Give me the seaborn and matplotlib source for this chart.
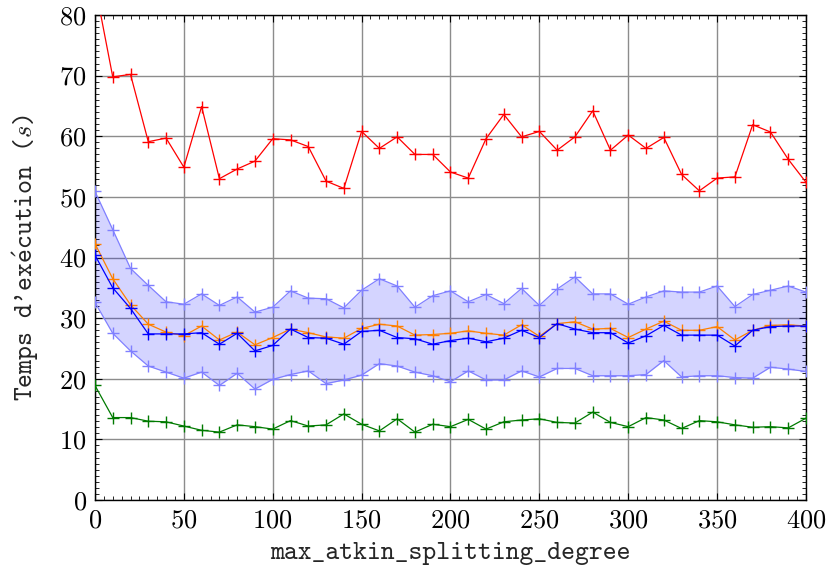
import numpy as np
import pandas as pd
import matplotlib
matplotlib.use("Agg")
import matplotlib.pyplot as plt
from matplotlib.ticker import MultipleLocator
import seaborn as sns

degree = list(range(0, 401, 10))

t_max = [85.0, 69.8, 70.2, 59.1, 59.7, 54.9, 64.9, 53.0, 54.6, 55.9,
         59.6, 59.4, 58.3, 52.6, 51.4, 60.8, 58.0, 59.9, 57.0, 57.0,
         54.1, 53.1, 59.6, 63.6, 59.9, 60.8, 57.7, 59.9, 64.2, 57.7,
         60.2, 58.0, 59.8, 53.7, 51.0, 53.1, 53.3, 61.9, 60.7, 56.2, 52.4]

t_upper = [50.9, 44.6, 38.2, 35.4, 32.7, 32.3, 34.0, 32.1, 33.5, 31.0,
           31.8, 34.5, 33.3, 33.2, 31.7, 34.6, 36.5, 35.3, 31.8, 33.7,
           34.5, 32.7, 33.9, 32.4, 34.9, 32.1, 34.8, 36.8, 34.0, 34.0,
           32.3, 33.5, 34.5, 34.3, 34.3, 35.3, 31.9, 33.9, 34.6, 35.3, 34.3]

t_lower = [32.6, 27.5, 24.6, 22.1, 21.1, 20.1, 21.1, 18.9, 20.9, 18.3,
           19.9, 20.7, 21.3, 19.2, 19.8, 20.6, 22.5, 22.1, 21.1, 20.5,
           19.5, 21.3, 19.8, 19.8, 21.3, 20.3, 21.7, 21.7, 20.5, 20.5,
           20.5, 20.7, 23.0, 20.3, 20.5, 20.5, 20.2, 20.1, 21.9, 21.6, 21.2]

t_mean = [40.4, 35.0, 31.6, 27.4, 27.4, 27.4, 27.6, 25.7, 27.5, 24.6,
          25.5, 28.2, 26.8, 26.7, 25.7, 27.8, 28.0, 26.8, 26.6, 25.7,
          26.3, 26.7, 26.1, 26.7, 28.0, 26.8, 29.1, 28.2, 27.6, 27.6,
          25.9, 27.1, 28.8, 27.2, 27.2, 27.2, 25.4, 28.0, 28.6, 28.7, 28.7]

t_median = [42.3, 36.5, 32.2, 29.0, 27.7, 27.1, 28.7, 26.4, 27.7, 25.6,
            26.8, 28.2, 27.6, 26.9, 26.7, 28.3, 29.0, 28.7, 27.2, 27.3,
            27.5, 27.9, 27.5, 27.2, 28.9, 27.0, 29.1, 29.4, 28.2, 28.3,
            26.8, 28.2, 29.5, 28.0, 28.0, 28.6, 26.4, 28.0, 28.8, 28.9, 28.7]

t_min = [18.9, 13.6, 13.6, 13.0, 12.9, 12.2, 11.5, 11.2, 12.4, 12.1,
         11.7, 13.1, 12.2, 12.4, 14.2, 12.5, 11.4, 13.4, 11.2, 12.5,
         12.1, 13.3, 11.7, 12.9, 13.2, 13.4, 12.8, 12.7, 14.5, 12.8,
         12.1, 13.6, 13.2, 11.8, 13.1, 12.9, 12.4, 12.0, 12.1, 11.9, 13.5]

df = pd.DataFrame({"degree": degree, "max": t_max, "upper": t_upper,
                   "lower": t_lower, "mean": t_mean, "median": t_median,
                   "min": t_min})

sns.set_style("ticks")
plt.rcParams["font.family"] = ["cmr10", "DejaVu Serif"]
plt.rcParams["axes.formatter.use_mathtext"] = True
plt.rcParams["mathtext.fontset"] = "cm"

fig = plt.figure(figsize=(8.33, 5.77), dpi=100)
ax = fig.add_axes([0.114, 0.1334, 0.8536, 0.8406])

band_c = "#8080ff"
ax.fill_between(df["degree"], df["lower"], df["upper"], color="#0000ff",
                alpha=0.17, linewidth=0, zorder=1)

line_kw = dict(marker="+", markersize=8, markeredgewidth=1.0, linewidth=0.9,
               zorder=3)
series = [("upper", band_c), ("lower", band_c), ("max", "red"),
          ("min", "#007a00"), ("median", "#ff8000"), ("mean", "#0000ff")]
for col, colour in series:
    sns.lineplot(data=df, x="degree", y=col, color=colour, ax=ax,
                 markeredgecolor=colour, **line_kw)

ax.set_xlim(0, 400)
ax.set_ylim(0, 80)
ax.xaxis.set_major_locator(MultipleLocator(50))
ax.xaxis.set_minor_locator(MultipleLocator(5))
ax.yaxis.set_major_locator(MultipleLocator(10))
ax.yaxis.set_minor_locator(MultipleLocator(1))
ax.grid(True, which="major", color="#8c8c8c", linewidth=1.0, zorder=0)
ax.set_axisbelow(True)
ax.tick_params(which="both", direction="in", top=True, right=True,
               labelsize=19, colors="black")
ax.tick_params(which="major", length=5, width=0.8, pad=6)
ax.tick_params(which="minor", length=3, width=0.6)
for sp in ax.spines.values():
    sp.set_color("black")
    sp.set_linewidth(1.0)

label_font = ["cmtt10", "DejaVu Sans Mono"]
ax.set_xlabel("max_atkin_splitting_degree", family=label_font, fontsize=19,
              labelpad=7)
ax.set_ylabel(r"Temps d'ex$\acute{\mathtt{e}}$cution ($s$)", family=label_font,
              fontsize=19, labelpad=13)

fig.savefig("out.png", dpi=100)
